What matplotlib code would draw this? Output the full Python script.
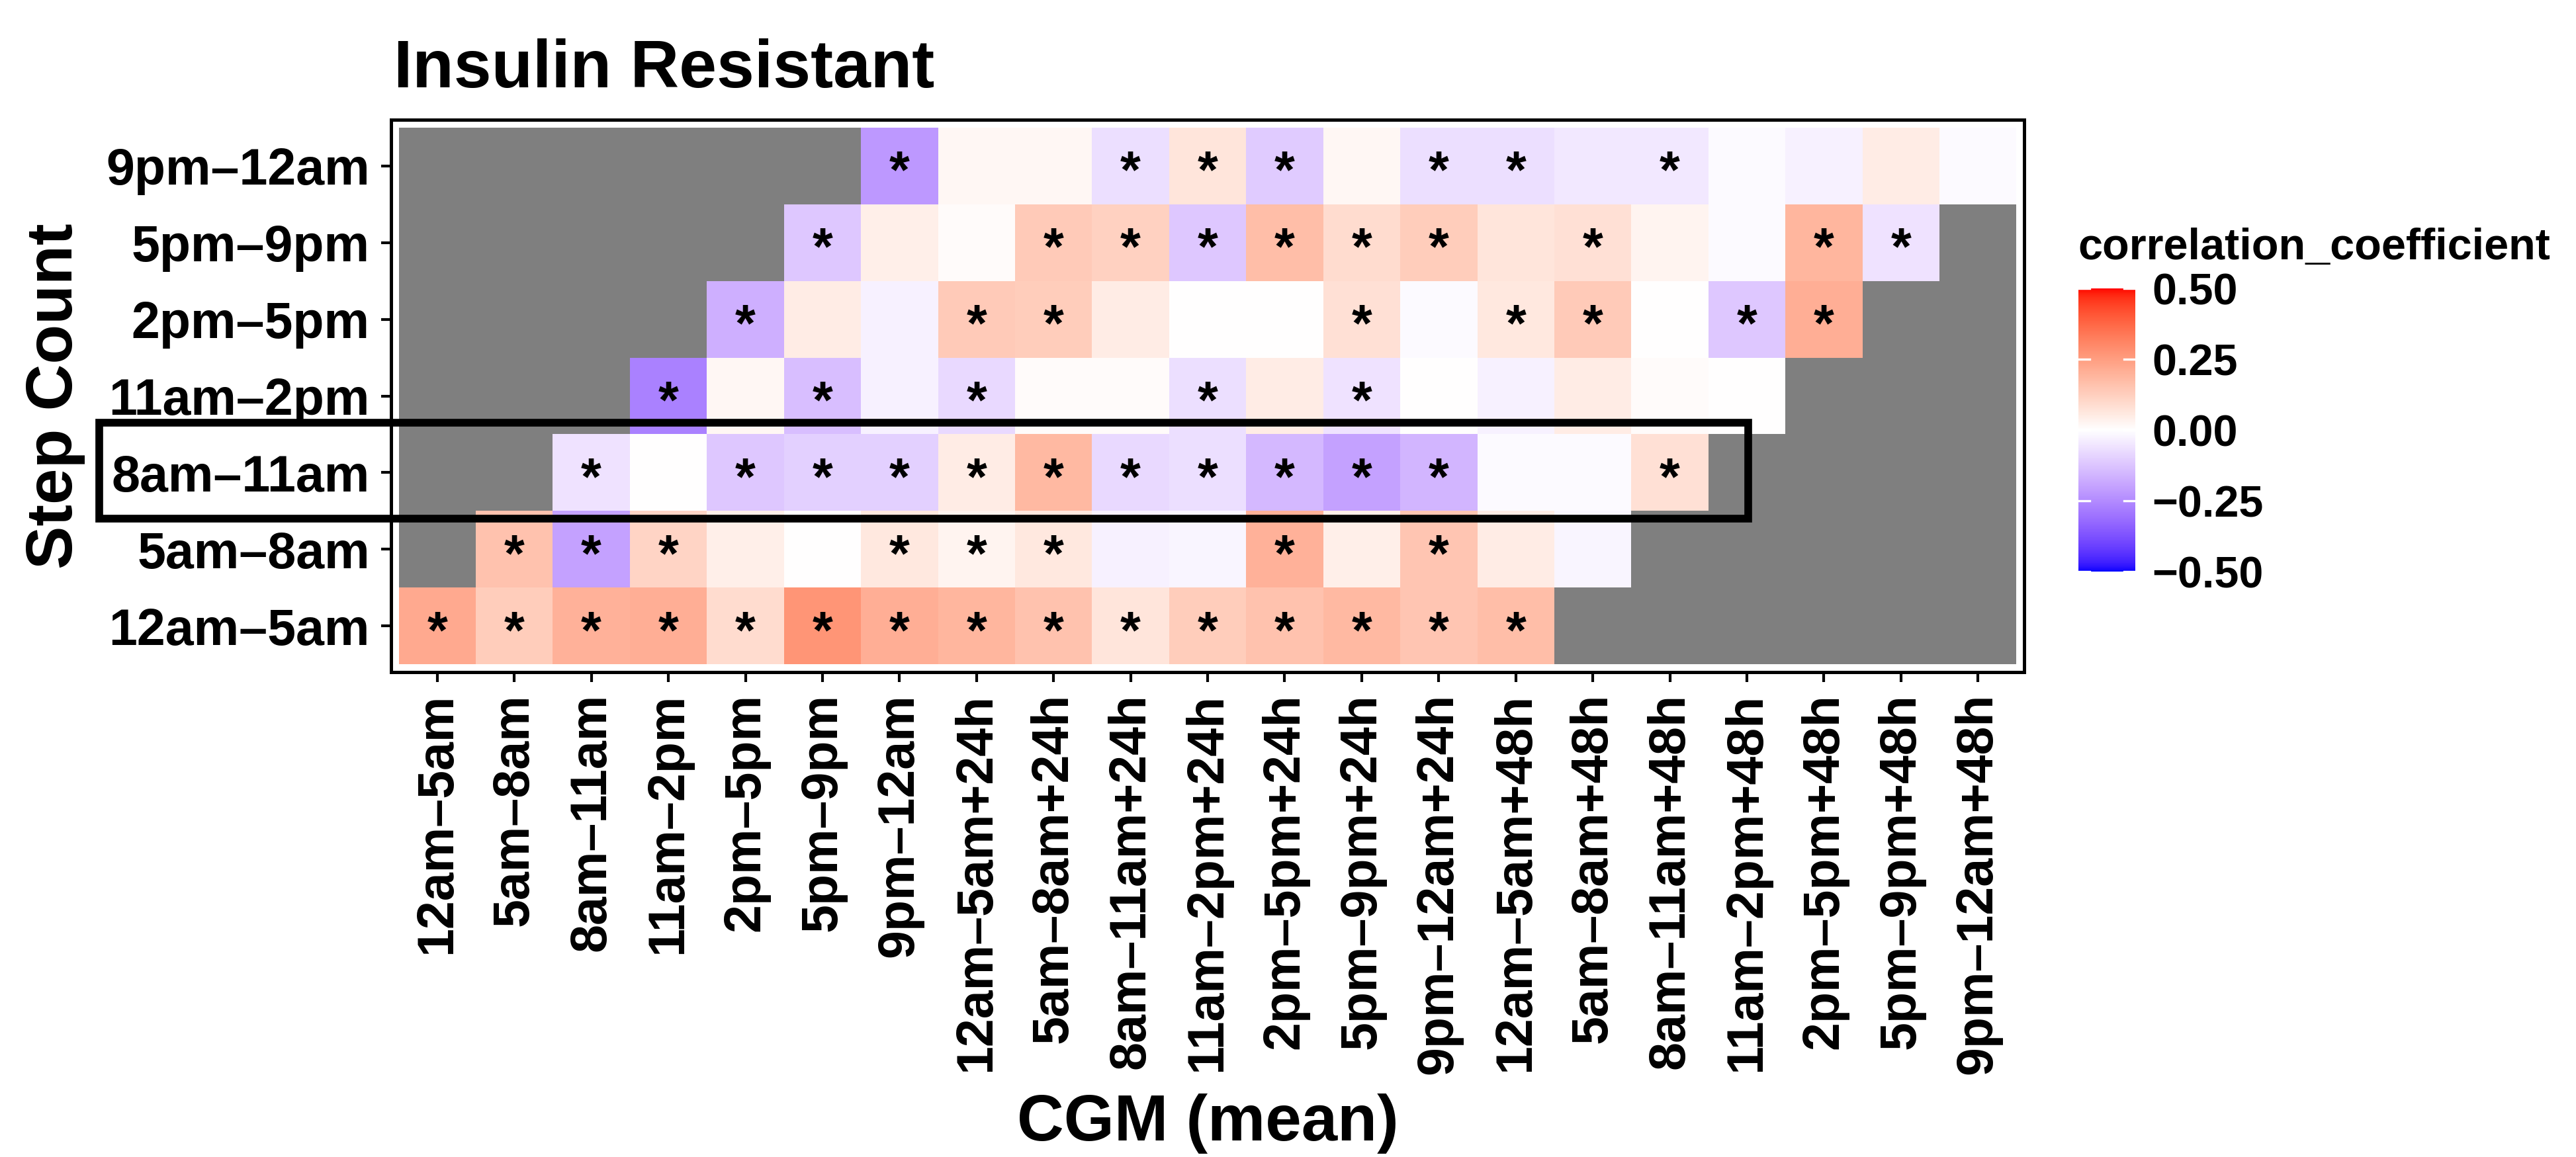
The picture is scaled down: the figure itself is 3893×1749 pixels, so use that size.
import numpy as np
import matplotlib
matplotlib.use("Agg")
import matplotlib.pyplot as plt
import matplotlib.transforms as mtransforms
from matplotlib.colors import ListedColormap, Normalize
from matplotlib.patches import Rectangle

plt.rcParams['font.family'] = ['Liberation Sans', 'DejaVu Sans']
plt.rcParams['font.weight'] = 'bold'

NA = np.nan

# CGM windows (x axis)
cgm_labels = [
    "12am–5am", "5am–8am", "8am–11am", "11am–2pm", "2pm–5pm", "5pm–9pm", "9pm–12am",
    "12am–5am+24h", "5am–8am+24h", "8am–11am+24h", "11am–2pm+24h", "2pm–5pm+24h",
    "5pm–9pm+24h", "9pm–12am+24h",
    "12am–5am+48h", "5am–8am+48h", "8am–11am+48h", "11am–2pm+48h", "2pm–5pm+48h",
    "5pm–9pm+48h", "9pm–12am+48h",
]

# Step count windows (y axis, bottom to top)
step_labels = ["12am–5am", "5am–8am", "8am–11am", "11am–2pm", "2pm–5pm", "5pm–9pm", "9pm–12am"]

# correlation coefficients, one list per step-count window
r_12am_5am = [0.22, 0.13, 0.20, 0.21, 0.09, 0.27, 0.21, 0.19, 0.16, 0.07, 0.13, 0.16, 0.18, 0.15, 0.17,
              NA, NA, NA, NA, NA, NA]
r_5am_8am = [NA, 0.16, -0.20, 0.11, 0.04, 0.00, 0.06, 0.03, 0.06, -0.03, -0.02, 0.20, 0.04, 0.15, 0.05,
             -0.02, NA, NA, NA, NA, NA]
r_8am_11am = [NA, NA, -0.06, 0.00, -0.12, -0.10, -0.10, 0.05, 0.18, -0.08, -0.07, -0.15, -0.20, -0.16,
              -0.01, -0.01, 0.08, NA, NA, NA, NA]
r_11am_2pm = [NA, NA, NA, -0.27, 0.02, -0.14, -0.03, -0.08, 0.01, 0.01, -0.07, 0.05, -0.06, 0.00,
              -0.03, 0.05, 0.01, 0.00, NA, NA, NA]
r_2pm_5pm = [NA, NA, NA, NA, -0.17, 0.05, -0.03, 0.14, 0.13, 0.05, 0.00, 0.00, 0.08, -0.01,
             0.06, 0.14, 0.00, -0.12, 0.21, NA, NA]
r_5pm_9pm = [NA, NA, NA, NA, NA, -0.12, 0.04, 0.01, 0.14, 0.12, -0.12, 0.17, 0.09, 0.13,
             0.07, 0.08, 0.03, -0.01, 0.19, -0.06, NA]
r_9pm_12am = [NA, NA, NA, NA, NA, NA, -0.22, 0.02, 0.02, -0.07, 0.07, -0.11, 0.02, -0.07,
              -0.07, -0.05, -0.05, -0.01, -0.03, 0.05, -0.01]

# significance flags (1 = "*")
s_12am_5am = [1] * 15 + [0] * 6
s_5am_8am = [0, 1, 1, 1, 0, 0, 1, 1, 1, 0, 0, 1, 0, 1, 0, 0, 0, 0, 0, 0, 0]
s_8am_11am = [0, 0, 1, 0, 1, 1, 1, 1, 1, 1, 1, 1, 1, 1, 0, 0, 1, 0, 0, 0, 0]
s_11am_2pm = [0, 0, 0, 1, 0, 1, 0, 1, 0, 0, 1, 0, 1, 0, 0, 0, 0, 0, 0, 0, 0]
s_2pm_5pm = [0, 0, 0, 0, 1, 0, 0, 1, 1, 0, 0, 0, 1, 0, 1, 1, 0, 1, 1, 0, 0]
s_5pm_9pm = [0, 0, 0, 0, 0, 1, 0, 0, 1, 1, 1, 1, 1, 1, 0, 1, 0, 0, 1, 1, 0]
s_9pm_12am = [0, 0, 0, 0, 0, 0, 1, 0, 0, 1, 1, 1, 0, 1, 1, 0, 1, 0, 0, 0, 0]

values = np.array([r_12am_5am, r_5am_8am, r_8am_11am, r_11am_2pm, r_2pm_5pm, r_5pm_9pm, r_9pm_12am])
signif = np.array([s_12am_5am, s_5am_8am, s_8am_11am, s_11am_2pm, s_2pm_5pm, s_5pm_9pm, s_9pm_12am])


def lab_to_rgb(lab):
    L, a, b = lab[:, 0], lab[:, 1], lab[:, 2]
    fy = (L + 16) / 116
    fx = fy + a / 500
    fz = fy - b / 200

    def finv(t):
        return np.where(t > 6 / 29, t ** 3, 3 * (6 / 29) ** 2 * (t - 4 / 29))

    X = 0.95047 * finv(fx)
    Y = finv(fy)
    Z = 1.08883 * finv(fz)
    r = 3.2406 * X - 1.5372 * Y - 0.4986 * Z
    g = -0.9689 * X + 1.8758 * Y + 0.0415 * Z
    bb = 0.0557 * X - 0.2040 * Y + 1.0570 * Z
    rgb = np.stack([r, g, bb], axis=1)
    rgb = np.clip(rgb, 0, 1)
    rgb = np.where(rgb <= 0.0031308, 12.92 * rgb, 1.055 * rgb ** (1 / 2.4) - 0.055)
    return np.clip(rgb, 0, 1)


# blue - white - red gradient interpolated in Lab, like ggplot's gradient2
lab_blue = np.array([32.30, 79.19, -107.86])
lab_white = np.array([100.0, 0.0, 0.0])
lab_red = np.array([53.24, 80.09, 67.20])
t = np.linspace(0, 1, 256)[:, None]
lab = np.where(t < 0.5,
               lab_blue + (lab_white - lab_blue) * (t / 0.5),
               lab_white + (lab_red - lab_white) * ((t - 0.5) / 0.5))
cmap = ListedColormap(lab_to_rgb(lab))
cmap.set_bad('#7F7F7F')
norm = Normalize(vmin=-0.5, vmax=0.5)

fig = plt.figure(figsize=(3893 / 300, 1749 / 300), dpi=300)
ax = fig.add_axes([0.1518, 0.4191, 0.6340, 0.4774])

n_rows, n_cols = values.shape
mesh = ax.pcolormesh(np.arange(n_cols + 1) - 0.5, np.arange(n_rows + 1) - 0.5,
                     np.ma.masked_invalid(values), cmap=cmap, norm=norm)

star_trans = mtransforms.offset_copy(ax.transData, fig=fig, y=-3, units='points')
for i in range(n_rows):
    for j in range(n_cols):
        if signif[i, j]:
            ax.text(j, i, '*', ha='center', va='center', fontsize=19,
                    fontweight='bold', color='black', transform=star_trans)

ax.set_xlim(-0.6, n_cols - 0.4)
ax.set_ylim(-0.6, n_rows - 0.4)
ax.set_xticks(range(n_cols))
ax.set_xticklabels(cgm_labels, rotation=90, fontsize=18.5, fontweight='bold')
ax.set_yticks(range(n_rows))
ax.set_yticklabels(step_labels, fontsize=18.5, fontweight='bold')
ax.tick_params(length=3.5, width=1.0, pad=4.2, colors='black')
for sp in ax.spines.values():
    sp.set_linewidth(1.2)
    sp.set_color('black')

ax.set_xlabel('CGM (mean)', fontsize=23.5, fontweight='bold', va='baseline')
ax.xaxis.set_label_coords(0.5, -0.848)
ax.set_ylabel('Step Count', fontsize=23.5, fontweight='bold', va='center')
ax.yaxis.set_label_coords(-0.2058, 0.5)

fig.text(0.1528, 0.9245, 'Insulin Resistant', fontsize=24.5, fontweight='bold',
         ha='left', va='baseline')

# highlight box around the 8am-11am row
box = Rectangle((-4.39, 1.40), 21.41, 1.25, fill=False, edgecolor='black',
                linewidth=2.8, clip_on=False, zorder=5)
ax.add_patch(box)

# colour bar legend
cax = fig.add_axes([0.8068, 0.5060, 0.0221, 0.2447])
cbar = fig.colorbar(mesh, cax=cax)
cbar.outline.set_visible(False)
cbar_ticks = [-0.5, -0.25, 0.0, 0.25, 0.5]
cbar.set_ticks(cbar_ticks)
cbar.set_ticklabels([f"{v:.2f}".replace('-', '−') for v in cbar_ticks])
cax.tick_params(length=0, pad=6, labelsize=16)
for v in cbar_ticks:
    cax.plot([0, 0.2], [v, v], color='white', lw=0.8)
    cax.plot([0.8, 1], [v, v], color='white', lw=0.8)
fig.text(0.8068, 0.7759, 'correlation_coefficient', fontsize=16, fontweight='bold',
         ha='left', va='baseline')

fig.savefig('out.png', dpi=300, facecolor='white')
